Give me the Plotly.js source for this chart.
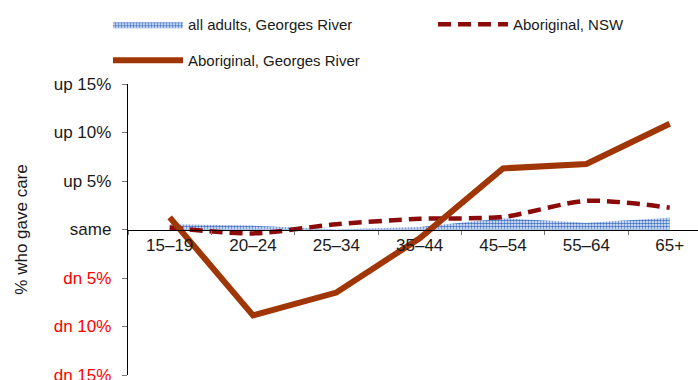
<!DOCTYPE html>
<html>
<head>
<meta charset="utf-8">
<script src="https://cdn.plot.ly/plotly-3.0.1.min.js"></script>
<style>html,body{margin:0;padding:0;background:#fff;}#chart{width:698px;height:380px;}</style>
</head>
<body>
<div id="chart"></div>
<script>
var categories = ['15–19', '20–24', '25–34', '35–44', '45–54', '55–64', '65+'];
var allAdultsGeorgesRiver = [0.55, 0.4, 0.02, 0.25, 1.15, 0.7, 1.2];
var aboriginalNSW = [0.2, -0.4, 0.55, 1.1, 1.3, 2.95, 2.25];
var aboriginalGeorgesRiver = [1.25, -8.85, -6.5, -0.9, 6.3, 6.75, 10.9];
var seriesNames = ['all adults, Georges River', 'Aboriginal, NSW', 'Aboriginal, Georges River'];
var yTickVals = [-15, -10, -5, 0, 5, 10, 15];
var yTickText = ['<span style="color:#ff0000">dn 15%</span>', '<span style="color:#ff0000">dn 10%</span>', '<span style="color:#ff0000">dn 5%</span>', 'same', 'up 5%', 'up 10%', 'up 15%'];
var yTitle = '% who gave care';

var font = 'Liberation Sans, Arial, sans-serif';

var traces = [
  {
    x: categories, y: allAdultsGeorgesRiver, name: seriesNames[0], type: 'scatter', mode: 'lines',
    line: {width: 0, color: '#5b8ad0'}, fill: 'tozeroy', fillcolor: '#ffffff',
    fillpattern: {shape: '.', fgcolor: '#3f72c4', bgcolor: '#ffffff', size: 3, solidity: 0.6},
    legend: 'legend'
  },
  {
    x: categories, y: aboriginalNSW, name: seriesNames[1], type: 'scatter', mode: 'lines',
    line: {width: 4.5, color: '#8b0a0a', dash: '13px,7px', shape: 'spline', smoothing: 0.8},
    legend: 'legend2'
  },
  {
    x: categories, y: aboriginalGeorgesRiver, name: seriesNames[2], type: 'scatter', mode: 'lines',
    line: {width: 6, color: '#a03605'},
    legend: 'legend3'
  }
];

function legendAt(px, py) {
  return {
    orientation: 'h', xref: 'container', yref: 'container',
    x: px / 698, y: 1 - py / 380, xanchor: 'left', yanchor: 'top',
    font: {family: font, size: 15, color: '#1a1a1a'},
    itemwidth: 70,
    bgcolor: 'rgba(0,0,0,0)', borderwidth: 0
  };
}

var layout = {
  width: 698, height: 380,
  margin: {l: 128, r: 0, t: 84, b: 5, pad: 0},
  paper_bgcolor: '#ffffff', plot_bgcolor: '#ffffff',
  font: {family: font, size: 17, color: '#1a1a1a'},
  showlegend: true,
  xaxis: {
    type: 'category', range: [-0.5, 6.34], anchor: 'free', position: 0.5,
    showline: true, linecolor: '#000000', linewidth: 1.2,
    ticks: 'outside', tickson: 'boundaries', ticklen: 4, tickcolor: '#777777',
    showgrid: false, zeroline: false,
    tickfont: {family: font, size: 17, color: '#1a1a1a'}
  },
  yaxis: {
    range: [-15, 15], tickvals: yTickVals, ticktext: yTickText,
    showline: true, linecolor: '#000000', linewidth: 1.2,
    ticks: 'outside', ticklen: 5, tickcolor: '#777777',
    ticklabelstandoff: 7, ticklabeloverflow: 'allow',
    showgrid: false, zeroline: false,
    tickfont: {family: font, size: 17, color: '#1a1a1a'},
    title: {text: yTitle, font: {family: font, size: 17, color: '#1a1a1a'}, standoff: 21}
  },
  legend: legendAt(108, 8),
  legend2: legendAt(433, 8),
  legend3: legendAt(108, 44)
};

Plotly.newPlot('chart', traces, layout, {staticPlot: true, displayModeBar: false});
</script>
</body>
</html>
